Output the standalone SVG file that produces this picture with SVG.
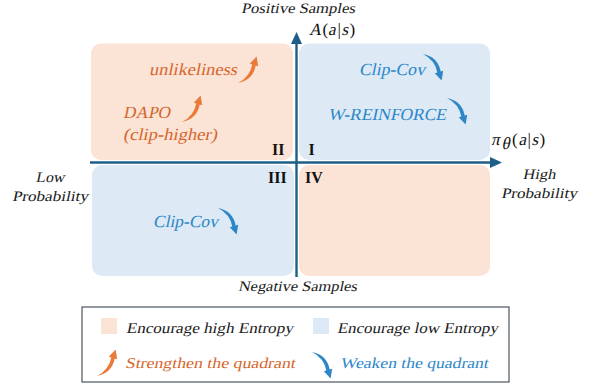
<svg xmlns="http://www.w3.org/2000/svg" width="590" height="387" viewBox="0 0 590 387">
<style>
.t{font-family:"Liberation Serif","DejaVu Serif",serif;}
.k{fill:#1a1a1a;font-size:14.5px;}
.o{fill:#d5662c;font-size:17px;}
.b{fill:#2b86c8;font-size:17px;}
.lg{font-size:15px;}
.rn{font-family:"Liberation Serif","DejaVu Serif",serif;font-weight:bold;font-size:16px;fill:#111;}
.m{font-family:"Liberation Serif","DejaVu Serif",serif;font-size:17px;fill:#111;}
.pk{fill:#fbe3d6;}
.bl{fill:#dde9f5;}
.ax{stroke:#1d5f86;stroke-width:2.4;fill:none;}
</style>
<defs>
<path id="arr" d="M0,27 Q15,24 17.7,9.5 L20.2,10.3 L18.6,0.4 L11.8,7.7 L14.3,8.5 Q12,21 0,27 Z"/>
</defs>
<rect width="590" height="387" fill="#fff"/>
<g id="quadrant-II"><rect class="pk" x="91" y="43.5" width="202" height="116.5" rx="10"/>
<text class="rn" x="272" y="155">II</text>
<text class="t o" transform="translate(149,75) skewX(-12)" textLength="88" lengthAdjust="spacingAndGlyphs">unlikeliness</text>
<use href="#arr" fill="#ea7a38" transform="translate(238,56)"/>
<text class="t o" transform="translate(123,118) skewX(-12)" textLength="47" lengthAdjust="spacingAndGlyphs">DAPO</text>
<use href="#arr" fill="#ea7a38" transform="translate(182,95)"/>
<text class="t o" transform="translate(123,140) skewX(-12)" textLength="94" lengthAdjust="spacingAndGlyphs">(clip-higher)</text>
</g>
<g id="quadrant-I"><rect class="bl" x="299" y="43.5" width="191" height="116.5" rx="10"/>
<text class="rn" x="308.5" y="155">I</text>
<text class="t b" transform="translate(359,75) skewX(-12)" textLength="66" lengthAdjust="spacingAndGlyphs">Clip-Cov</text>
<use href="#arr" fill="#2f86c6" transform="translate(423,81) scale(1,-1)"/>
<text class="t b" transform="translate(328,120) skewX(-12)" textLength="118" lengthAdjust="spacingAndGlyphs">W-REINFORCE</text>
<use href="#arr" fill="#2f86c6" transform="translate(447,125) scale(1,-1)"/>
</g>
<g id="quadrant-III"><rect class="bl" x="92" y="165" width="202" height="111" rx="10"/>
<text class="rn" x="268" y="183">III</text>
<text class="t b" transform="translate(153,227) skewX(-12)" textLength="65" lengthAdjust="spacingAndGlyphs">Clip-Cov</text>
<use href="#arr" fill="#2f86c6" transform="translate(218,235) scale(1,-1)"/>
</g>
<g id="quadrant-IV"><rect class="pk" x="299" y="165" width="191" height="111" rx="10"/>
<text class="rn" x="305" y="183">IV</text>
</g>
<g id="axes">
<line class="ax" x1="90" y1="162.5" x2="492" y2="162.5"/>
<path d="M502,162.5 L490,157 L490,168 Z" fill="#1d5f86"/>
<line class="ax" x1="296.5" y1="277" x2="296.5" y2="42"/>
<path d="M296.5,32 L291,44 L302,44 Z" fill="#1d5f86"/>
</g>
<g id="axis-labels">
<text class="t k" transform="translate(298,13) skewX(-12)" text-anchor="middle" textLength="114" lengthAdjust="spacingAndGlyphs">Positive Samples</text>
<text class="t k" transform="translate(297.5,291) skewX(-12)" text-anchor="middle" textLength="119" lengthAdjust="spacingAndGlyphs">Negative Samples</text>
<text class="t k" transform="translate(50,182) skewX(-12)" text-anchor="middle" textLength="29" lengthAdjust="spacingAndGlyphs">Low</text>
<text class="t k" transform="translate(50,201) skewX(-12)" text-anchor="middle" textLength="76" lengthAdjust="spacingAndGlyphs">Probability</text>
<text class="t k" transform="translate(539,179) skewX(-12)" text-anchor="middle" textLength="33" lengthAdjust="spacingAndGlyphs">High</text>
<text class="t k" transform="translate(539,198) skewX(-12)" text-anchor="middle" textLength="76" lengthAdjust="spacingAndGlyphs">Probability</text>
<text class="m" transform="translate(309,34.5) skewX(-12)">A</text>
<text class="m" x="322.5" y="34.5">(</text>
<text class="m" transform="translate(328,34.5) skewX(-12)">a</text>
<text class="m" x="337.5" y="34.5">|</text>
<text class="m" transform="translate(341.5,34.5) skewX(-12)">s</text>
<text class="m" x="349.5" y="34.5">)</text>
<text class="m" transform="translate(491,145) skewX(-12)">π</text>
<text class="m" transform="translate(501.5,148.5) skewX(-12)" font-size="11">θ</text>
<text class="m" x="512" y="145">(</text>
<text class="m" transform="translate(518.5,145) skewX(-12)">a</text>
<text class="m" x="527.5" y="145">|</text>
<text class="m" transform="translate(531.5,145) skewX(-12)">s</text>
<text class="m" x="539.5" y="145">)</text>
</g>
<g id="legend">
<rect x="82" y="307" width="427" height="75" fill="#fff" stroke="#4a5560" stroke-width="1.2"/>
<rect class="pk" x="101" y="318" width="16" height="16"/>
<text class="t lg" transform="translate(126,333) skewX(-12)" fill="#1a1a1a" textLength="167" lengthAdjust="spacingAndGlyphs">Encourage high Entropy</text>
<rect class="bl" x="313" y="318" width="16" height="16"/>
<text class="t lg" transform="translate(337,333) skewX(-12)" fill="#1a1a1a" textLength="161" lengthAdjust="spacingAndGlyphs">Encourage low Entropy</text>
<use href="#arr" fill="#ea7a38" transform="translate(97,349)"/>
<text class="t lg" transform="translate(125,368) skewX(-12)" fill="#d5662c" textLength="170" lengthAdjust="spacingAndGlyphs">Strengthen the quadrant</text>
<use href="#arr" fill="#2f86c6" transform="translate(312,379) scale(1,-1)"/>
<text class="t lg" transform="translate(340,368) skewX(-12)" fill="#2b86c8" textLength="148" lengthAdjust="spacingAndGlyphs">Weaken the quadrant</text>
</g>
</svg>
